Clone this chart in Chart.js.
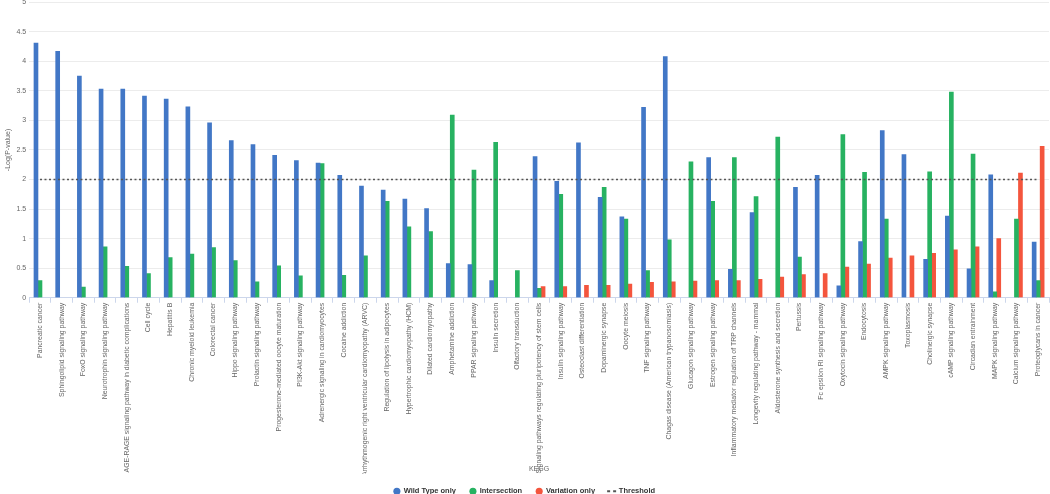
<!DOCTYPE html>
<html>
<head>
<meta charset="utf-8">
<script src="https://cdn.jsdelivr.net/npm/chart.js@4/dist/chart.umd.min.js"></script>
<style>
  html, body { margin: 0; padding: 0; background: #fff; overflow: hidden; }
  #clip { width: 1050px; height: 494px; overflow: hidden; position: relative; }
  #wrap { width: 1050px; height: 510px; position: absolute; left: 0; top: -5px; }
</style>
</head>
<body>
<div id="clip"><div id="wrap"><canvas id="chart"></canvas></div></div>
<script>
const categories = [
  "Pancreatic cancer", "Sphingolipid signaling pathway", "FoxO signaling pathway",
  "Neurotrophin signaling pathway", "AGE-RAGE signaling pathway in diabetic complications",
  "Cell cycle", "Hepatitis B", "Chronic myeloid leukemia", "Colorectal cancer",
  "Hippo signaling pathway", "Prolactin signaling pathway",
  "Progesterone-mediated oocyte maturation", "PI3K-Akt signaling pathway",
  "Adrenergic signaling in cardiomyocytes", "Cocaine addiction",
  "Arrhythmogenic right ventricular cardiomyopathy (ARVC)",
  "Regulation of lipolysis in adipocytes", "Hypertrophic cardiomyopathy (HCM)",
  "Dilated cardiomyopathy", "Amphetamine addiction", "PPAR signaling pathway",
  "Insulin secretion", "Olfactory transduction",
  "Signaling pathways regulating pluripotency of stem cells",
  "Insulin signaling pathway", "Osteoclast differentiation", "Dopaminergic synapse",
  "Oocyte meiosis", "TNF signaling pathway", "Chagas disease (American trypanosomiasis)",
  "Glucagon signaling pathway", "Estrogen signaling pathway",
  "Inflammatory mediator regulation of TRP channels",
  "Longevity regulating pathway - mammal", "Aldosterone synthesis and secretion",
  "Pertussis", "Fc epsilon RI signaling pathway", "Oxytocin signaling pathway",
  "Endocytosis", "AMPK signaling pathway", "Toxoplasmosis", "Cholinergic synapse",
  "cAMP signaling pathway", "Circadian entrainment", "MAPK signaling pathway",
  "Calcium signaling pathway", "Proteoglycans in cancer"
];

const wildType = [
  4.31, 4.17, 3.75, 3.53, 3.53, 3.41, 3.36, 3.23, 2.96, 2.66,
  2.59, 2.41, 2.32, 2.28, 2.07, 1.89, 1.82, 1.67, 1.51, 0.58,
  0.56, 0.29, null, 2.39, 1.97, 2.62, 1.70, 1.37, 3.22, 4.08,
  null, 2.37, 0.48, 1.44, null, 1.87, 2.07, 0.20, 0.95, 2.83,
  2.42, 0.65, 1.38, 0.49, 2.08, null, 0.94
];

const intersection = [
  0.29, null, 0.18, 0.86, 0.53, 0.41, 0.68, 0.74, 0.85, 0.63,
  0.27, 0.54, 0.37, 2.27, 0.38, 0.71, 1.63, 1.20, 1.12, 3.09,
  2.16, 2.63, 0.46, 0.16, 1.75, null, 1.87, 1.33, 0.46, 0.98,
  2.30, 1.63, 2.37, 1.71, 2.72, 0.69, null, 2.76, 2.12, 1.33,
  null, 2.13, 3.48, 2.43, 0.10, 1.33, 0.29
];

const variation = [
  null, null, null, null, null, null, null, null, null, null,
  null, null, null, null, null, null, null, null, null, null,
  null, null, null, 0.19, 0.19, 0.21, 0.21, 0.23, 0.26, 0.27,
  0.28, 0.29, 0.29, 0.31, 0.35, 0.39, 0.41, 0.52, 0.57, 0.67,
  0.71, 0.75, 0.81, 0.86, 1.00, 2.11, 2.56
];

const THRESHOLD = 2;
const yTicks = [0, 0.5, 1, 1.5, 2, 2.5, 3, 3.5, 4, 4.5, 5];

const FONT = "'Liberation Sans', Arial, sans-serif";

// small "- -" marker for the threshold legend entry
const dashIcon = document.createElement("canvas");
dashIcon.width = 12;
dashIcon.height = 4;
(() => {
  const c = dashIcon.getContext("2d");
  c.fillStyle = "#555";
  c.fillRect(1, 1, 3, 2);
  c.fillRect(7, 1, 3, 2);
})();

const barDefaults = { barThickness: 4, borderWidth: 0, pointStyle: "circle" };

new Chart(document.getElementById("chart"), {
  type: "bar",
  data: {
    labels: categories,
    datasets: [
      { label: "Wild Type only", data: wildType, backgroundColor: "#4277c6", ...barDefaults, order: 2 },
      { label: "Intersection", data: intersection, backgroundColor: "#27b261", ...barDefaults, order: 2 },
      { label: "Variation only", data: variation, backgroundColor: "#f4553d", ...barDefaults, order: 2 },
      {
        type: "line",
        label: "Threshold",
        data: categories.map(() => THRESHOLD),
        borderColor: "#555",
        backgroundColor: "#555",
        borderWidth: 1.6,
        borderDash: [2, 2.5],
        pointRadius: 0,
        pointStyle: dashIcon,
        order: 1
      }
    ]
  },
  options: {
    responsive: true,
    maintainAspectRatio: false,
    animation: false,
    layout: { padding: { left: 0, right: 1, top: 0, bottom: 0 } },
    plugins: {
      tooltip: { enabled: false },
      legend: {
        position: "bottom",
        labels: {
          usePointStyle: true,
          boxWidth: 6,
          boxHeight: 5,
          padding: 14,
          color: "#333",
          font: { family: FONT, size: 7.5, weight: "bold" },
          sort: (a, b) => a.datasetIndex - b.datasetIndex
        }
      }
    },
    scales: {
      x: {
        offset: true,
        border: { display: true, color: "#ccd6eb", width: 1 },
        grid: {
          offset: true,
          drawOnChartArea: false,
          drawTicks: true,
          tickLength: 5,
          color: "#ccd6eb"
        },
        ticks: {
          autoSkip: false,
          minRotation: 90,
          maxRotation: 90,
          padding: 0,
          color: "#666",
          font: { family: FONT, size: 6.9 }
        },
        title: {
          display: true,
          text: "KEGG",
          color: "#666",
          padding: { top: -11, bottom: 0 },
          font: { family: FONT, size: 7 }
        }
      },
      y: {
        min: 0,
        max: 5,
        afterBuildTicks: (scale) => { scale.ticks = yTicks.map(v => ({ value: v })); },
        border: { display: false },
        grid: { color: "#ececec", drawTicks: false },
        ticks: {
          padding: 3,
          color: "#666",
          font: { family: FONT, size: 7 },
          callback: (v) => String(v)
        },
        title: {
          display: true,
          text: "-Log(P-value)",
          color: "#666",
          padding: { top: 4, bottom: 1 },
          font: { family: FONT, size: 7 }
        }
      }
    }
  }
});
</script>
</body>
</html>
